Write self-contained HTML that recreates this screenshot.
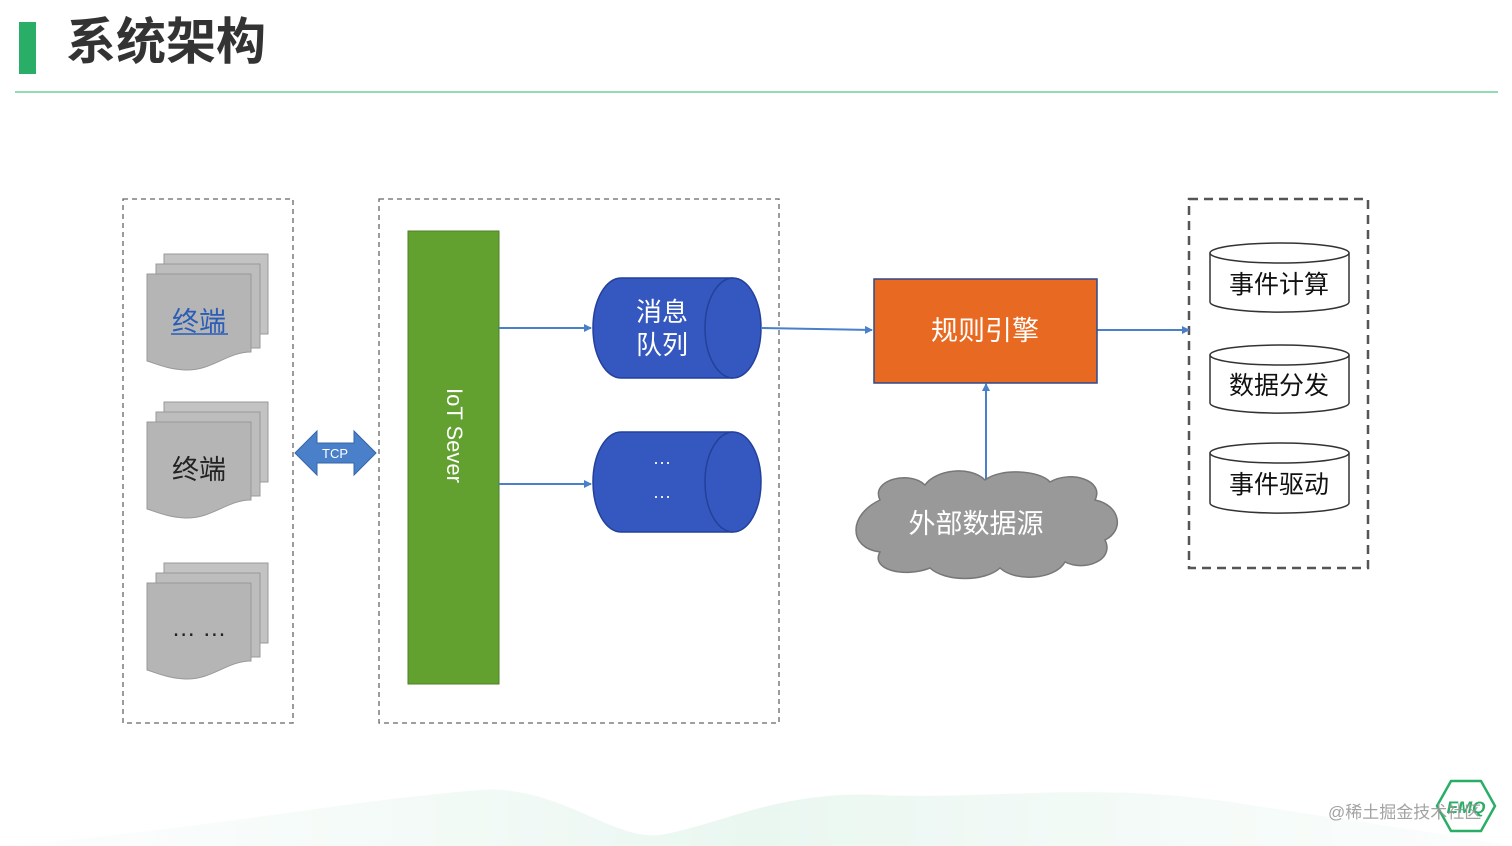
<!DOCTYPE html>
<html><head><meta charset="utf-8"><style>
body{margin:0;background:#fff;}
svg{display:block;font-family:"Liberation Sans","Noto Sans CJK SC",sans-serif;}
</style></head><body>
<svg width="1512" height="846" viewBox="0 0 1512 846">
<defs>
<linearGradient id="wv" x1="0" x2="1"><stop offset="0" stop-color="#cdebdc" stop-opacity="0.2"/><stop offset="0.5" stop-color="#b9e3cf"/><stop offset="1" stop-color="#cdebdc" stop-opacity="0.3"/></linearGradient>
<marker id="ar" markerWidth="8" markerHeight="8" refX="7" refY="4" orient="auto" markerUnits="userSpaceOnUse"><path d="M0,0 L8,4 L0,8 Z" fill="#4a7fc9"/></marker>
<g id="doc">
<rect x="17" y="-20" width="104" height="80" fill="#c3c3c3" stroke="#999"/>
<rect x="9" y="-10" width="104" height="84" fill="#bdbdbd" stroke="#999"/>
<path d="M0,0 H104 V78 C80,78 65,97 38,96 C20,95 10,90 0,87 Z" fill="#b5b5b5" stroke="#999"/>
</g>
</defs>
<rect x="19" y="22" width="17" height="52" fill="#2aae67"/>
<text x="66" y="59" font-size="50" font-weight="bold" fill="#333">系统架构</text>
<line x1="15" y1="92" x2="1498" y2="92" stroke="#6fcf9c" stroke-width="1.5"/>
<path d="M0,846 C200,830 350,800 480,790 C560,785 610,840 660,835 C720,825 780,790 880,795 C1000,800 1100,780 1250,805 C1350,820 1450,835 1512,846 Z" fill="url(#wv)" opacity="0.3"/>
<rect x="123" y="199" width="170" height="524" fill="none" stroke="#666" stroke-width="1.3" stroke-dasharray="5,4"/>
<rect x="379" y="199" width="400" height="524" fill="none" stroke="#666" stroke-width="1.3" stroke-dasharray="5,4"/>
<rect x="1189" y="199" width="179" height="369" fill="none" stroke="#555" stroke-width="2.5" stroke-dasharray="9,6"/>
<use href="#doc" x="147" y="274"/>
<use href="#doc" x="147" y="422"/>
<use href="#doc" x="147" y="583"/>
<text x="199" y="331" font-size="27" fill="#2a5db8" text-anchor="middle">终端</text>
<line x1="171" y1="334" x2="228" y2="334" stroke="#2a5db8" stroke-width="1.5"/>
<text x="199" y="479" font-size="27" fill="#222" text-anchor="middle">终端</text>
<text x="199" y="636" font-size="24" fill="#222" text-anchor="middle">…  …</text>
<path d="M295,453 L317,431 V443 H354 V431 L376,453 L354,475 V463 H317 V475 Z" fill="#4a7fc9" stroke="#3565a8"/>
<text x="335" y="458" font-size="13" fill="#fff" text-anchor="middle">TCP</text>
<rect x="408" y="231" width="91" height="453" fill="#62a12f" stroke="#4d7f25"/>
<text transform="translate(447,388) rotate(90)" font-size="22" fill="#fff">IoT Sever</text>
<path d="M733,278 H621 A28,50 0 0 0 621,378 H733" fill="#3558c0" stroke="#23409a" stroke-width="1.5"/>
<ellipse cx="733" cy="328" rx="28" ry="50" fill="#3558c0" stroke="#23409a" stroke-width="1.5"/>
<text x="662" y="321" font-size="26" fill="#fff" text-anchor="middle">消息</text>
<text x="662" y="354" font-size="26" fill="#fff" text-anchor="middle">队列</text>
<path d="M733,432 H621 A28,50 0 0 0 621,532 H733" fill="#3558c0" stroke="#23409a" stroke-width="1.5"/>
<ellipse cx="733" cy="482" rx="28" ry="50" fill="#3558c0" stroke="#23409a" stroke-width="1.5"/>
<text x="662" y="468" font-size="18" fill="#fff" text-anchor="middle">···</text>
<text x="662" y="502" font-size="18" fill="#fff" text-anchor="middle">···</text>
<line x1="499" y1="328" x2="591" y2="328" stroke="#4a7fc9" stroke-width="2" marker-end="url(#ar)"/>
<line x1="499" y1="484" x2="591" y2="484" stroke="#4a7fc9" stroke-width="2" marker-end="url(#ar)"/>
<line x1="761" y1="328" x2="872" y2="330" stroke="#4a7fc9" stroke-width="2" marker-end="url(#ar)"/>
<line x1="1097" y1="330" x2="1189" y2="330" stroke="#4a7fc9" stroke-width="2" marker-end="url(#ar)"/>
<line x1="986" y1="480" x2="986" y2="384" stroke="#4a7fc9" stroke-width="2" marker-end="url(#ar)"/>
<rect x="874" y="279" width="223" height="104" fill="#e86a22" stroke="#2e4a8a" stroke-width="1.5"/>
<text x="985" y="340" font-size="27" fill="#fff" text-anchor="middle">规则引擎</text>
<g fill="#999" stroke="#777" stroke-width="1.5">
<path d="M880,500 C870,480 910,470 925,485 C935,470 970,465 985,480 C1000,468 1040,470 1050,482 C1070,470 1105,480 1095,500 C1120,505 1125,530 1105,540 C1115,560 1085,572 1065,562 C1055,580 1015,582 1000,568 C985,582 945,582 930,568 C905,578 870,570 880,552 C848,548 848,515 880,500 Z"/>
</g>
<text x="976" y="533" font-size="27" fill="#fff" text-anchor="middle">外部数据源</text>
<g fill="#fff" stroke="#333" stroke-width="1.5">
<path d="M1210,253 V302 A69,10 0 0 0 1349,302 V253"/><ellipse cx="1279.5" cy="253" rx="69.5" ry="10"/>
<path d="M1210,355 V403 A69,10 0 0 0 1349,403 V355"/><ellipse cx="1279.5" cy="355" rx="69.5" ry="10"/>
<path d="M1210,453 V503 A69,10 0 0 0 1349,503 V453"/><ellipse cx="1279.5" cy="453" rx="69.5" ry="10"/>
</g>
<text x="1279" y="293" font-size="25" fill="#111" text-anchor="middle">事件计算</text>
<text x="1279" y="394" font-size="25" fill="#111" text-anchor="middle">数据分发</text>
<text x="1279" y="493" font-size="25" fill="#111" text-anchor="middle">事件驱动</text>
<path d="M1451,781 H1481 L1495,806 L1481,831 H1451 L1437,806 Z" fill="none" stroke="#2aae67" stroke-width="2.5"/>
<text x="1466" y="813" font-size="17" font-weight="bold" font-style="italic" fill="#2aae67" text-anchor="middle">EMQ</text>
<text x="1328" y="818" font-size="17" fill="#999" opacity="0.9">@稀土掘金技术社区</text>
</svg>
</body></html>
